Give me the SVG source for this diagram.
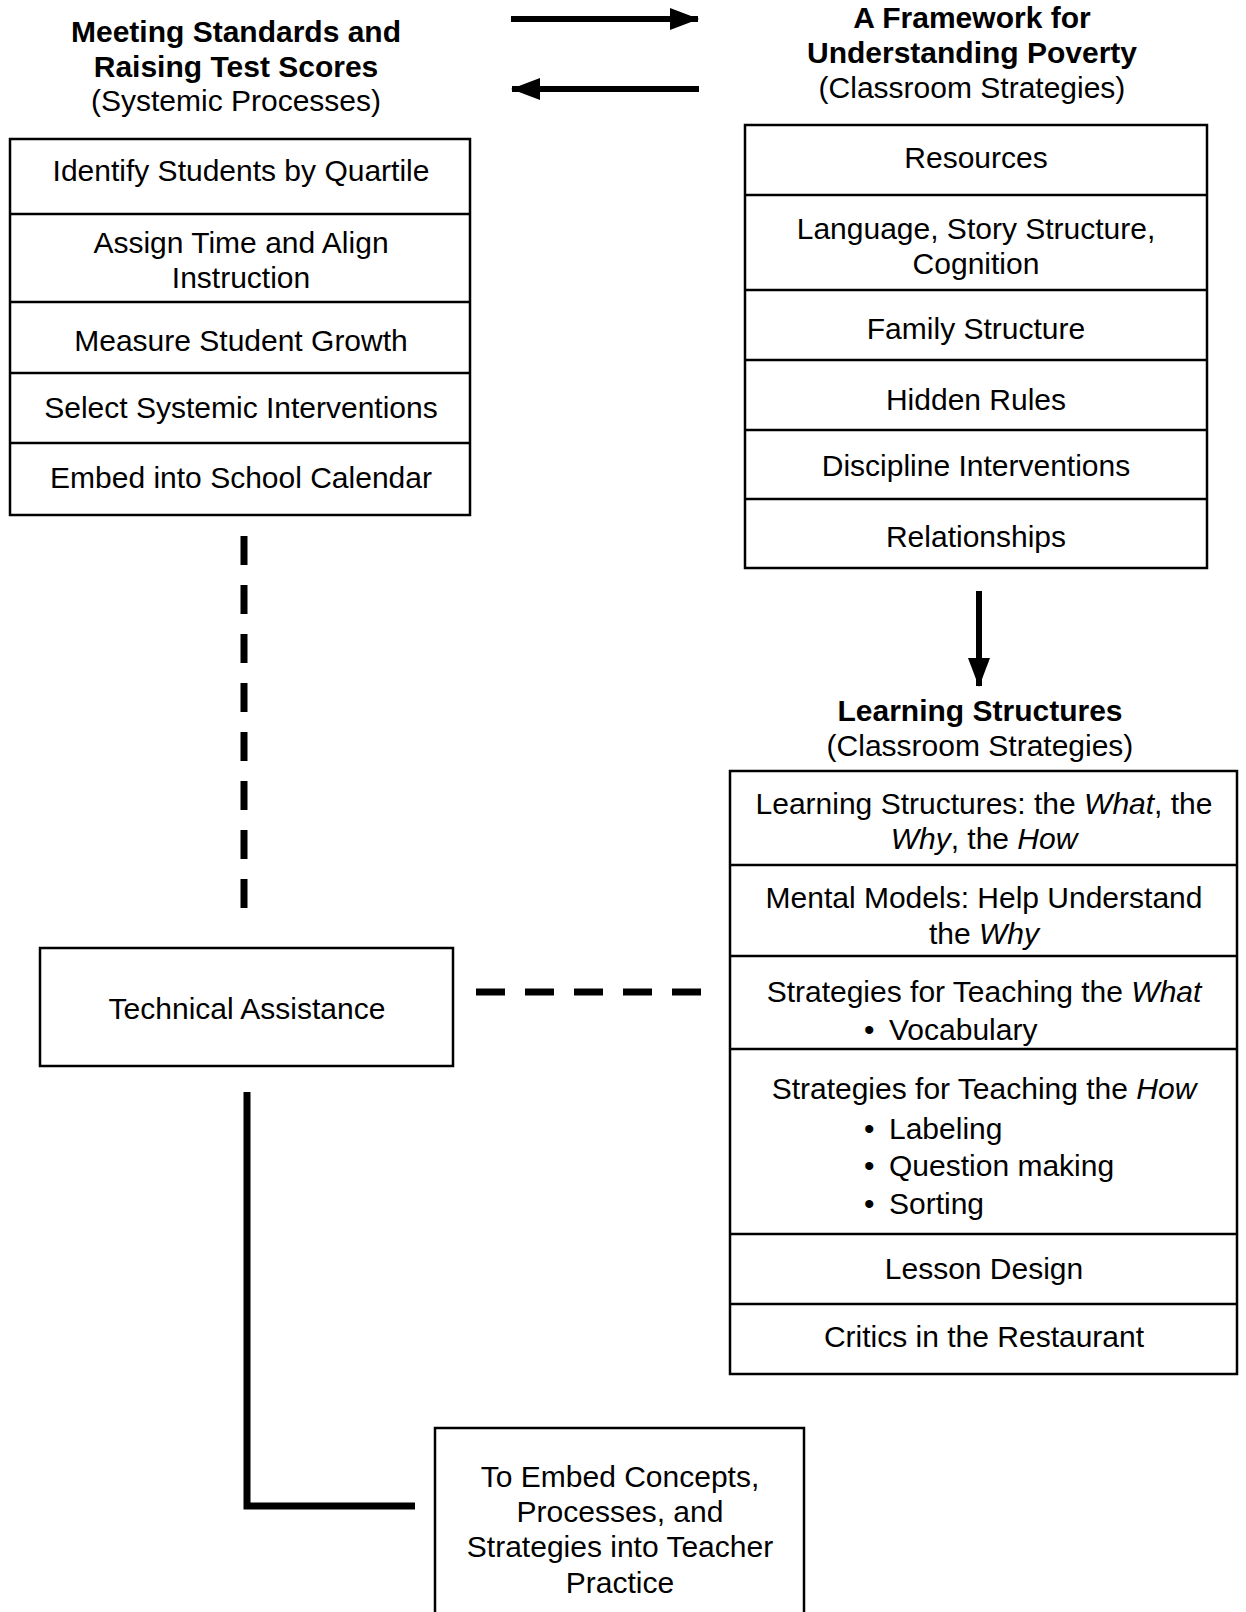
<svg xmlns="http://www.w3.org/2000/svg" width="1246" height="1612" viewBox="0 0 1246 1612">
<style>
text{font-family:"Liberation Sans",Arial,sans-serif;font-size:30px;fill:#000;text-anchor:middle}
.b{font-weight:bold}
.i{font-style:italic}
.l{text-anchor:start}
.box{fill:#fff;stroke:#000;stroke-width:2.5}
.div{stroke:#000;stroke-width:2.5}
.arr{stroke:#000;stroke-width:6;fill:none}
.dash{stroke:#000;stroke-width:7;fill:none;stroke-dasharray:29 20}
.solid{stroke:#000;stroke-width:7;fill:none}
</style>
<defs>
<marker id="ah" markerUnits="userSpaceOnUse" markerWidth="30" markerHeight="24" refX="28" refY="12" orient="auto">
<path d="M0,1 L29,12 L0,23 Z" fill="#000"/>
</marker>
</defs>
<rect width="1246" height="1612" fill="#fff"/>

<g id="connectors">
<line class="arr" x1="511" y1="19" x2="698" y2="19" marker-end="url(#ah)"/>
<line class="arr" x1="699" y1="89" x2="512" y2="89" marker-end="url(#ah)"/>
<line class="arr" x1="979" y1="591" x2="979" y2="686" marker-end="url(#ah)"/>
<line class="dash" x1="244" y1="536" x2="244" y2="910"/>
<line class="dash" x1="476" y1="992" x2="705" y2="992"/>
<polyline class="solid" points="247,1092 247,1506 415,1506"/>
</g>

<g id="title-left">
<text class="b" x="236" y="42">Meeting Standards and</text>
<text class="b" x="236" y="77">Raising Test Scores</text>
<text x="236" y="111">(Systemic Processes)</text>
</g>

<g id="title-right">
<text class="b" x="972" y="28">A Framework for</text>
<text class="b" x="972" y="63">Understanding Poverty</text>
<text x="972" y="98">(Classroom Strategies)</text>
</g>

<g id="systemic-processes">
<rect class="box" x="10" y="139" width="460" height="376"/>
<line class="div" x1="10" y1="214" x2="470" y2="214"/>
<line class="div" x1="10" y1="302" x2="470" y2="302"/>
<line class="div" x1="10" y1="373" x2="470" y2="373"/>
<line class="div" x1="10" y1="443" x2="470" y2="443"/>
<text x="241" y="181">Identify Students by Quartile</text>
<text x="241" y="253">Assign Time and Align</text>
<text x="241" y="288">Instruction</text>
<text x="241" y="351">Measure Student Growth</text>
<text x="241" y="418">Select Systemic Interventions</text>
<text x="241" y="488">Embed into School Calendar</text>
</g>

<g id="poverty-framework">
<rect class="box" x="745" y="125" width="462" height="443"/>
<line class="div" x1="745" y1="195" x2="1207" y2="195"/>
<line class="div" x1="745" y1="290" x2="1207" y2="290"/>
<line class="div" x1="745" y1="360" x2="1207" y2="360"/>
<line class="div" x1="745" y1="430" x2="1207" y2="430"/>
<line class="div" x1="745" y1="499" x2="1207" y2="499"/>
<text x="976" y="168">Resources</text>
<text x="976" y="239">Language, Story Structure,</text>
<text x="976" y="274">Cognition</text>
<text x="976" y="339">Family Structure</text>
<text x="976" y="410">Hidden Rules</text>
<text x="976" y="476">Discipline Interventions</text>
<text x="976" y="547">Relationships</text>
</g>

<g id="title-learning">
<text class="b" x="980" y="721">Learning Structures</text>
<text x="980" y="756">(Classroom Strategies)</text>
</g>

<g id="learning-structures">
<rect class="box" x="730" y="771" width="507" height="603"/>
<line class="div" x1="730" y1="865" x2="1237" y2="865"/>
<line class="div" x1="730" y1="956" x2="1237" y2="956"/>
<line class="div" x1="730" y1="1049" x2="1237" y2="1049"/>
<line class="div" x1="730" y1="1234" x2="1237" y2="1234"/>
<line class="div" x1="730" y1="1304" x2="1237" y2="1304"/>
<text x="984" y="814">Learning Structures: the <tspan class="i">What</tspan>, the</text>
<text x="984" y="849"><tspan class="i">Why</tspan>, the <tspan class="i">How</tspan></text>
<text x="984" y="908">Mental Models: Help Understand</text>
<text x="984" y="944">the <tspan class="i">Why</tspan></text>
<text x="984" y="1002">Strategies for Teaching the <tspan class="i">What</tspan></text>
<text class="l" x="864" y="1040">•<tspan x="889">Vocabulary</tspan></text>
<text x="984" y="1099">Strategies for Teaching the <tspan class="i">How</tspan></text>
<text class="l" x="864" y="1139">•<tspan x="889">Labeling</tspan></text>
<text class="l" x="864" y="1176">•<tspan x="889">Question making</tspan></text>
<text class="l" x="864" y="1214">•<tspan x="889">Sorting</tspan></text>
<text x="984" y="1279">Lesson Design</text>
<text x="984" y="1347">Critics in the Restaurant</text>
</g>

<g id="technical-assistance">
<rect class="box" x="40" y="948" width="413" height="118"/>
<text x="247" y="1019">Technical Assistance</text>
</g>

<g id="teacher-practice">
<rect class="box" x="435" y="1428" width="369" height="200"/>
<text x="620" y="1487">To Embed Concepts,</text>
<text x="620" y="1522">Processes, and</text>
<text x="620" y="1557">Strategies into Teacher</text>
<text x="620" y="1593">Practice</text>
</g>
</svg>
